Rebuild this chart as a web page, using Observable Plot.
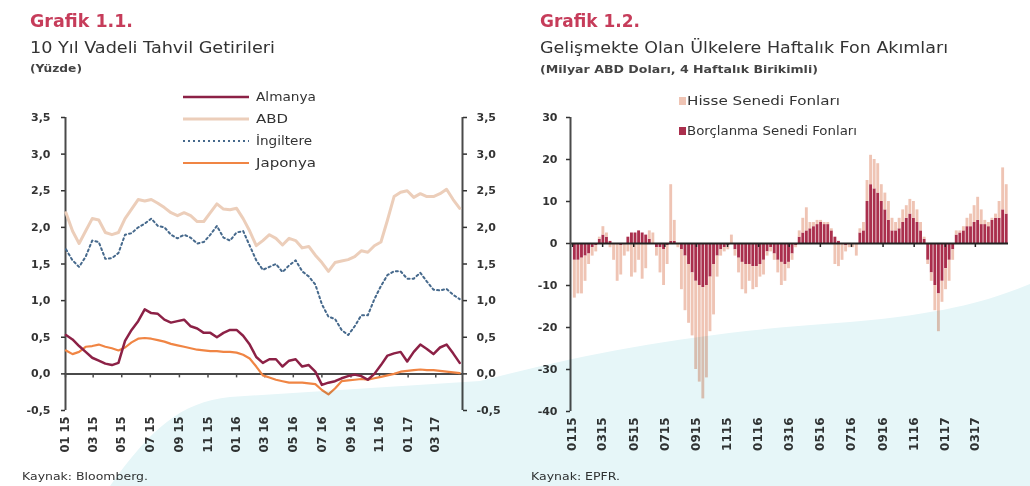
<!DOCTYPE html>
<html><head><meta charset="utf-8">
<script src="https://cdn.jsdelivr.net/npm/d3@7"></script>
<script src="https://cdn.jsdelivr.net/npm/@observablehq/plot@0.6"></script>
<style>
html,body{margin:0;padding:0;background:#fff;}
#page{position:relative;width:1030px;height:486px;overflow:hidden;background:#fff;}
#page > *{position:absolute;left:0;top:0;}
#left{left:0;top:90px;}
#right{left:520px;top:90px;}
#overlay{mix-blend-mode:multiply;pointer-events:none;}
</style></head><body>
<div id="page">
  <div id="left"></div>
  <div id="right"></div>
  <svg id="txt" width="1030" height="486"></svg>
  <svg id="overlay" width="1030" height="486"></svg>
</div>
<script>
// ---------- Grafik 1.1 data (biweekly, from 2 Jan 2015) ----------
const seriesL = ["Almanya", "ABD", "İngiltere", "Japonya"];
const colorsL = ["#8c2146", "#ecceba", "#46698c", "#f08544"];
const almanya = [0.53,0.47,0.38,0.3,0.22,0.18,0.14,0.12,0.15,0.45,
  0.6,0.72,0.88,0.83,0.82,0.74,0.7,0.72,0.74,0.65,
  0.62,0.56,0.56,0.5,0.56,0.6,0.6,0.52,0.4,0.23,
  0.15,0.2,0.2,0.1,0.18,0.2,0.1,0.12,0.03,-0.15,
  -0.12,-0.1,-0.06,-0.03,-0.01,-0.03,-0.08,0.0,0.12,0.25,
  0.28,0.3,0.17,0.3,0.4,0.34,0.27,0.36,0.4,0.28,0.15];
const abd = [2.2,1.95,1.78,1.95,2.12,2.1,1.93,1.9,1.93,2.12,
  2.25,2.38,2.36,2.38,2.33,2.27,2.2,2.16,2.2,2.16,
  2.08,2.08,2.2,2.32,2.25,2.24,2.26,2.12,1.95,1.75,
  1.82,1.9,1.85,1.76,1.85,1.82,1.72,1.74,1.62,1.52,
  1.4,1.52,1.54,1.56,1.6,1.68,1.66,1.75,1.8,2.1,
  2.42,2.48,2.5,2.41,2.46,2.42,2.42,2.46,2.52,2.38,2.26];
const ingiltere = [1.7,1.55,1.46,1.6,1.82,1.8,1.57,1.58,1.65,1.9,
  1.92,2.0,2.05,2.12,2.02,2.0,1.9,1.85,1.9,1.86,
  1.78,1.8,1.9,2.02,1.86,1.82,1.93,1.95,1.75,1.55,
  1.42,1.46,1.5,1.39,1.48,1.55,1.4,1.33,1.22,0.95,
  0.78,0.75,0.6,0.53,0.65,0.8,0.8,1.02,1.2,1.35,
  1.4,1.4,1.3,1.3,1.38,1.26,1.15,1.14,1.16,1.08,1.02];
const japonya = [0.32,0.27,0.3,0.37,0.38,0.4,0.37,0.35,0.32,0.36,
  0.43,0.48,0.49,0.48,0.46,0.44,0.41,0.39,0.37,0.35,
  0.33,0.32,0.31,0.31,0.3,0.3,0.29,0.26,0.21,0.1,
  -0.02,-0.05,-0.08,-0.1,-0.12,-0.12,-0.12,-0.13,-0.14,-0.22,
  -0.28,-0.2,-0.1,-0.09,-0.08,-0.07,-0.08,-0.06,-0.04,-0.02,
  0.0,0.03,0.04,0.05,0.06,0.05,0.05,0.04,0.03,0.02,0.01];
const yTicksL = [-0.5,0,0.5,1,1.5,2,2.5,3,3.5];

// ---------- Grafik 1.2 data (weekly, from 2 Jan 2015) ----------
const seriesR = ["Borçlanma Senedi Fonları", "Hisse Senedi Fonları"];
const colorsR = ["#aa2f4d", "#efc4b4"];
const borclanma = [-4,-4,-3.5,-3,-2.5,-1,-0.5,1,2,1.5,
  0.5,0,0,-0.5,0,1.5,2.5,2.5,3,2.5,
  2,1,0,-1,-1,-1.5,-0.5,0.5,0.5,0,
  -1.5,-3,-5,-7,-9,-10,-10.5,-10,-8,-5,
  -3,-1.5,-1,-0.5,0,-1.5,-3.5,-4.5,-5,-5,
  -5.5,-5.5,-5,-4,-2,-1,-2.5,-4,-4.5,-5,
  -4.5,-2.5,-0.5,1.5,2.5,3,3.5,4,4.5,5,
  4.5,4.5,3,1.5,0.5,0,-0.5,-0.3,0,0,
  2.5,3,10,14,13,12,10,8,5.5,3,
  3,3.5,5,6,7,6,5,3,1,-4,
  -7,-10,-12,-9,-6,-4,-1.5,2,2.5,3,
  4,4,5,5.5,4.5,4.5,4,5.5,6,6,
  8,7];
const hisse = [-9,-8,-8.5,-6,-2.5,-2,-1.5,0.5,2,1,
  -1,-4,-9,-7,-3,-2,-8,-7,-4,-8.5,
  -6,2,2.5,-2,-6,-8.5,-4.5,13.5,5,-1,
  -9.5,-13,-14,-15,-21,-23,-26.5,-22,-13,-12,
  -5,-1.5,-1,-1,2,-1.5,-3.5,-6.5,-7,-4,
  -5.5,-5,-3,-3.5,-1,-1,-1.5,-3,-5.5,-4,
  -1.5,-1.5,-0.5,1.5,3.5,5.5,1.5,1,1,0.5,
  0.5,0.5,0.5,-5,-5.5,-4,-1.5,-0.7,-1,-3,
  1,2,5,7,7,7,4,4,4.5,3,
  2,2.5,3,3,3.5,4,3,2,0.5,-1,
  -2,-6,-9,-5,-5,-5,-2.5,1,0.5,1,
  2,3,4,5.5,3.5,1,1,0.5,1,4,
  10,7];
const yTicksR = [-40,-30,-20,-10,0,10,20,30];

// shared time axis
const firstDay = new Date("2015-01-02");
const monthTicks = d3.utcMonth.range(new Date("2015-01-01"), new Date("2017-04-02"), 2);
const datesL = d3.utcFriday.range(firstDay, new Date("2017-04-25"), 2);
const weeksR = d3.utcFriday.range(firstDay, new Date("2017-05-01"));

const font = '"DejaVu Sans", sans-serif';
const axisColor = "#4a4a4a";

// ---------- left chart ----------
const valuesL = [almanya, abd, ingiltere, japonya];
const rowsL = seriesL.flatMap((s, j) => datesL.map((d, i) => ({date: d, series: s, value: valuesL[j][i]})));
const xL0 = new Date("2015-01-01"), xL1 = new Date("2017-04-27");
const fmtL = d => d.toFixed(1).replace(".", ",");
const lineOf = (s, extra) => Plot.line(rowsL.filter(r => r.series === s),
  {x: "date", y: "value", stroke: colorsL[seriesL.indexOf(s)], ...extra});

const left = Plot.plot({
  width: 510, height: 380,
  marginLeft: 65, marginRight: 48, marginTop: 27, marginBottom: 60,
  style: {background: "transparent", fontFamily: font, color: "#333", overflow: "visible"},
  x: {type: "utc", domain: [xL0, xL1]},
  y: {domain: [-0.5, 3.5]},
  marks: [
    Plot.ruleY([0], {stroke: axisColor, strokeWidth: 2}),
    Plot.ruleX(monthTicks, {y1: 0, y2: 0, insetBottom: -4, stroke: axisColor, strokeWidth: 1.5}),
    Plot.ruleX([xL0, xL1], {y1: -0.5, y2: 3.5, stroke: axisColor, strokeWidth: 2}),
    Plot.axisY({anchor: "left", ticks: yTicksL, tickFormat: fmtL, tickSize: 4, tickPadding: 11,
      fontSize: 11, fontWeight: "bold", label: null, strokeWidth: 1.5}),
    Plot.axisY({anchor: "right", ticks: yTicksL, tickFormat: fmtL, tickSize: 4, tickPadding: 10,
      fontSize: 11, fontWeight: "bold", label: null, strokeWidth: 1.5}),
    Plot.axisX({ticks: monthTicks, tickFormat: d3.utcFormat("%m %y"), tickRotate: -90,
      tickSize: 0, tickPadding: 6, fontSize: 11.5, fontWeight: "bold", label: null}),
    lineOf("ABD", {strokeWidth: 3}),
    lineOf("İngiltere", {strokeWidth: 2, strokeDasharray: "2,3"}),
    lineOf("Japonya", {strokeWidth: 2.2}),
    lineOf("Almanya", {strokeWidth: 2.5})
  ]
});
document.getElementById("left").append(left);

// ---------- right chart ----------
const valuesR = [borclanma, hisse];
const rowsR = seriesR.flatMap((s, j) => weeksR.map((d, i) =>
  ({date: d, end: d3.utcDay.offset(d, 7), series: s, value: valuesR[j][i]})));
const xR0 = new Date("2014-12-28"), xR1 = new Date("2017-05-05");

const right = Plot.plot({
  width: 510, height: 380,
  marginLeft: 50, marginRight: 22, marginTop: 27, marginBottom: 59,
  style: {background: "transparent", fontFamily: font, color: "#333", overflow: "visible"},
  x: {type: "utc", domain: [xR0, xR1]},
  y: {domain: [-40, 30]},
  color: {domain: seriesR, range: colorsR},
  marks: [
    Plot.rectY(rowsR, {x1: "date", x2: "end", y: "value", fill: "series", insetLeft: 0.35, insetRight: 0.35}),
    Plot.ruleY([0], {stroke: "#222", strokeWidth: 1.8}),
    Plot.ruleX(monthTicks, {y1: 0, y2: 0, insetBottom: -4, stroke: "#222", strokeWidth: 1.5}),
    Plot.ruleX([xR0], {y1: -40, y2: 30, stroke: axisColor, strokeWidth: 2}),
    Plot.axisY({anchor: "left", ticks: yTicksR, tickFormat: d => String(d), tickSize: 4, tickPadding: 9,
      fontSize: 11, fontWeight: "bold", label: null, strokeWidth: 1.5}),
    Plot.axisX({ticks: monthTicks, tickFormat: d3.utcFormat("%m%y"), tickRotate: -90,
      tickSize: 0, tickPadding: 6, fontSize: 12, fontWeight: "bold", label: null})
  ]
});
document.getElementById("right").append(right);

// ---------- titles, legends, sources ----------
const txt = d3.select("#txt").attr("font-family", font);
const T = (x, y, s, size, opts = {}) => {
  const t = txt.append("text").attr("x", x).attr("y", y)
    .attr("font-size", size).attr("fill", opts.fill || "#333")
    .attr("font-weight", opts.weight || "normal").text(s);
  if (opts.len) t.attr("textLength", opts.len).attr("lengthAdjust", "spacingAndGlyphs");
  return t;
};

T(30, 27, "Grafik 1.1.", 17, {fill: "#c63c5a", weight: "bold", len: 103});
T(30, 53, "10 Yıl Vadeli Tahvil Getirileri", 16, {len: 245});
T(30, 72, "(Yüzde)", 11, {weight: "bold", fill: "#444", len: 52});
T(540, 27, "Grafik 1.2.", 17, {fill: "#c63c5a", weight: "bold", len: 100});
T(540, 53, "Gelişmekte Olan Ülkelere Haftalık Fon Akımları", 16, {len: 408});
T(540, 73, "(Milyar ABD Doları, 4 Haftalık Birikimli)", 11, {weight: "bold", fill: "#444", len: 278});
T(22, 480, "Kaynak: Bloomberg.", 10.5, {fill: "#333", len: 126});
T(531, 480, "Kaynak: EPFR.", 10.5, {fill: "#333", len: 89});

// left legend
const legY = [97, 119, 141, 163];
const legLen = [60, 32, 56, 60];
const legStyle = {"ABD": {w: 3}, "İngiltere": {w: 2, dash: "2,3"}, "Japonya": {w: 2.2}, "Almanya": {w: 2.5}};
seriesL.forEach((s, i) => {
  txt.append("line").attr("x1", 183).attr("x2", 249).attr("y1", legY[i]).attr("y2", legY[i])
    .attr("stroke", colorsL[i]).attr("stroke-width", legStyle[s].w)
    .attr("stroke-dasharray", legStyle[s].dash || null);
  T(256, legY[i] + 4, s, 12, {fill: "#333", len: legLen[i]});
});
// right legend (Hisse first, then Borçlanma)
[[1, 101, 153], [0, 131, 170]].forEach(([j, y, len]) => {
  txt.append("rect").attr("x", 679).attr("y", y - 4).attr("width", 7).attr("height", 8).attr("fill", colorsR[j]);
  T(687, y + 4, seriesR[j], 12, {fill: "#333", len});
});

// scanned-page tint (decorative)
d3.select("#overlay").append("path")
  .attr("d", "M110,486 C150,430 180,402 230,397 L480,381 C600,350 700,332 850,322 C950,313 990,300 1030,284 L1030,486 Z")
  .attr("fill", "#e6f6f8");
</script>
</body></html>
